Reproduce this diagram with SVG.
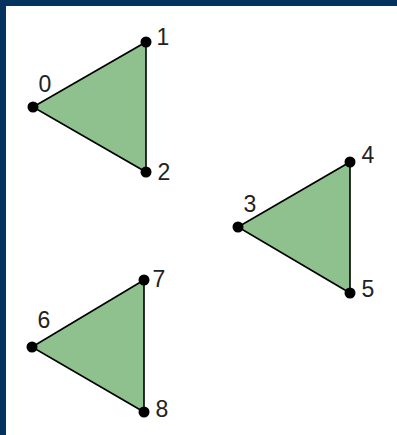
<svg xmlns="http://www.w3.org/2000/svg" width="397" height="435" viewBox="0 0 397 435">
<style>
.bg{fill:#ffffff}
.frame{fill:#04335f}
.tri{fill:#8fc18f;stroke:none}
.edge{stroke:#000;stroke-width:1.6;fill:none}
.dot{fill:#000}
.lbl{font-family:"Liberation Sans",Arial,sans-serif;font-size:23px;fill:#222;text-anchor:middle}
</style>
<rect class="bg" x="0" y="0" width="397" height="435"/>
<rect class="frame" x="0" y="0" width="397" height="6"/>
<rect class="frame" x="0" y="0" width="6" height="435"/>
<g id="triangle-a"><polygon class="tri" points="33,107 146,42 146,172"/></g>
<g id="triangle-b"><polygon class="tri" points="238,227 350,162 350,293"/></g>
<g id="triangle-c"><polygon class="tri" points="32,347 144,280 144,412"/></g>
<g id="connectors">
<polygon class="edge" points="33,107 146,42 146,172"/>
<polygon class="edge" points="238,227 350,162 350,293"/>
<polygon class="edge" points="32,347 144,280 144,412"/>
</g>
<g id="node-0"><circle class="dot" cx="33" cy="107" r="5.5"/><text class="lbl" x="45" y="92">0</text></g>
<g id="node-1"><circle class="dot" cx="146" cy="42" r="5.5"/><text class="lbl" x="163" y="45">1</text></g>
<g id="node-2"><circle class="dot" cx="146" cy="172" r="5.5"/><text class="lbl" x="164" y="180">2</text></g>
<g id="node-3"><circle class="dot" cx="238" cy="227" r="5.5"/><text class="lbl" x="250" y="212">3</text></g>
<g id="node-4"><circle class="dot" cx="350" cy="162" r="5.5"/><text class="lbl" x="368" y="163">4</text></g>
<g id="node-5"><circle class="dot" cx="350" cy="293" r="5.5"/><text class="lbl" x="368" y="297">5</text></g>
<g id="node-6"><circle class="dot" cx="32" cy="347" r="5.5"/><text class="lbl" x="44" y="328">6</text></g>
<g id="node-7"><circle class="dot" cx="144" cy="280" r="5.5"/><text class="lbl" x="159" y="287">7</text></g>
<g id="node-8"><circle class="dot" cx="144" cy="412" r="5.5"/><text class="lbl" x="162" y="417">8</text></g>
</svg>
